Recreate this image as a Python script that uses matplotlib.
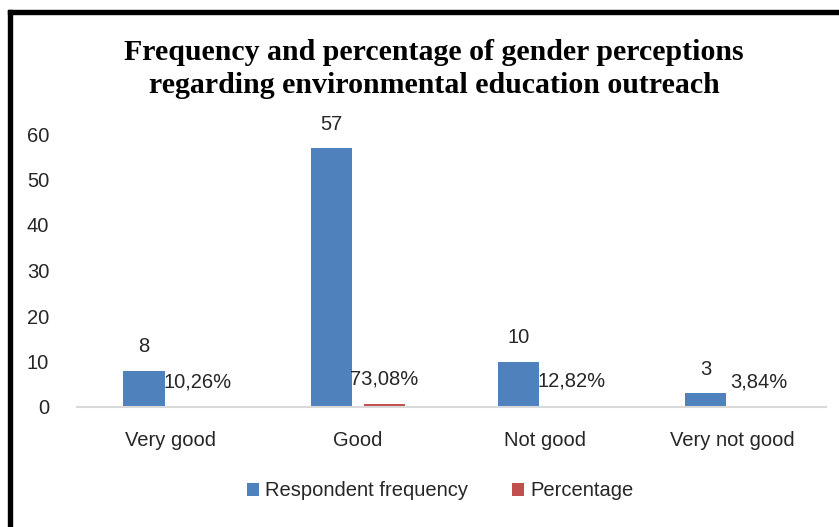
import matplotlib
matplotlib.use("Agg")
import matplotlib.pyplot as plt
import numpy as np
from matplotlib.patches import Rectangle

categories = ["Very good", "Good", "Not good", "Very not good"]
frequency = [8, 57, 10, 3]
percentage = [0.1026, 0.7308, 0.1282, 0.0384]
percentage_labels = ["10,26%", "73,08%", "12,82%", "3,84%"]
yticks = [0, 10, 20, 30, 40, 50, 60]

blue = "#4f81bd"
red = "#c0504d"
txt = "#262626"

fig = plt.figure(figsize=(8.39, 5.27), dpi=100)
W, H = 839, 527
ax = fig.add_axes([77 / W, 1 - 407 / H, (826 - 77) / W, (407 - 134) / H])

x = np.arange(len(categories))
bw = 0.22
off = 0.142
b1 = ax.bar(x - off, frequency, bw, color=blue, label="Respondent frequency")
b2 = ax.bar(x + off, percentage, bw, color=red, label="Percentage")

font = "Liberation Sans"
for xi, v in zip(x, frequency):
    ax.annotate(str(v), (xi - off, v), xytext=(0, 17), textcoords="offset points",
                ha="center", va="center", fontsize=14.5, color=txt, family=font)
for xi, v, lab in zip(x, percentage, percentage_labels):
    ax.annotate(lab, (xi + off, v), xytext=(0, 18), textcoords="offset points",
                ha="center", va="center", fontsize=14.5, color=txt, family=font)

ax.set_xlim(-0.5, len(categories) - 0.5)
ax.set_ylim(0, 60)
ax.set_yticks(yticks)
ax.set_yticklabels([str(t) for t in yticks], fontsize=14.5, color=txt, family=font)
ax.set_xticks(x)
ax.set_xticklabels(categories, fontsize=14.5, color=txt, family=font)
ax.tick_params(axis="both", length=0)
ax.tick_params(axis="y", pad=20)
ax.tick_params(axis="x", pad=17)
for s in ["top", "right", "left"]:
    ax.spines[s].set_visible(False)
ax.spines["bottom"].set_color("#d9d9d9")
ax.spines["bottom"].set_linewidth(1.5)

fig.text(434 / W, 1 - 69 / H,
         "Frequency and percentage of gender perceptions\nregarding environmental education outreach",
         ha="center", va="center", fontsize=21.5, fontweight="bold", family="Liberation Serif",
         color="#000000", linespacing=1.3)

leg = fig.legend(handles=[b1, b2], loc="center", bbox_to_anchor=(440 / W, 1 - 491 / H),
                 ncol=2, frameon=False, prop={"family": font, "size": 14.5},
                 handlelength=0.6, handleheight=0.6, handletextpad=0.3, columnspacing=2.2)
for t in leg.get_texts():
    t.set_color(txt)

# black frame border (left and top)
fig.patches.append(Rectangle((8 / W, 0), 4 / W, 1 - 10 / H, transform=fig.transFigure,
                             color="black", zorder=10))
fig.patches.append(Rectangle((8 / W, 1 - 14 / H), 1 - 8 / W, 4 / H, transform=fig.transFigure,
                             color="black", zorder=10))

fig.savefig("out.png", dpi=100)
